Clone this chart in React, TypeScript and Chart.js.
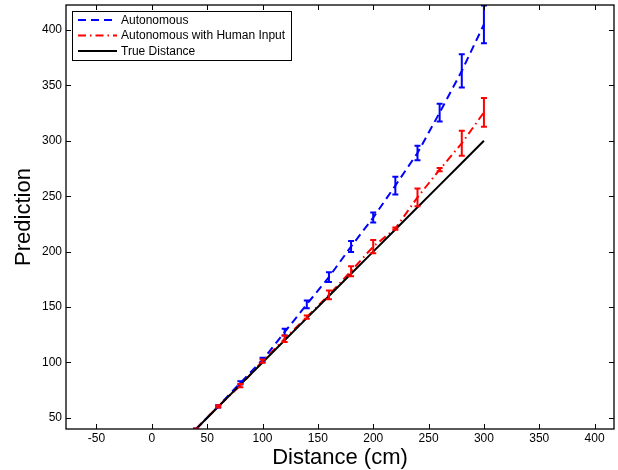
import React, { useEffect, useRef } from "react";
import { Chart, registerables } from "chart.js";

Chart.register(...registerables);

// ---- data ----
const distance = [40, 60, 80, 100, 120, 140, 160, 180, 200, 220, 240, 260, 280, 300];
const autonomous = [40, 60.5, 81.6, 102.2, 127.4, 152.5, 177, 204.6, 230.7, 259.6, 289, 325.4, 363, 405];
const autonomousErr = [0.5, 1, 1.5, 2, 3, 3.5, 4.5, 5, 4.5, 8, 6.5, 8, 15, 17];
const humanInput = [40, 60.4, 79.2, 101.2, 121.4, 141, 161, 182.4, 204.6, 220.8, 249, 274, 297.7, 325.7];
const humanInputErr = [0.5, 1, 1.5, 1.5, 3, 1.5, 4, 4.5, 6, 1, 8, 1.5, 11.3, 13];
const trueDistance = [40, 60, 80, 100, 120, 140, 160, 180, 200, 220, 240, 260, 280, 300];

const xTicks = [-50, 0, 50, 100, 150, 200, 250, 300, 350, 400];
const yTicks = [50, 100, 150, 200, 250, 300, 350, 400];
const seriesLabels = ["Autonomous", "Autonomous with Human Input", "True Distance"];
const xTitle = "Distance (cm)";
const yTitle = "Prediction";

const FONT = "'Liberation Sans', Arial, Helvetica, sans-serif";

export default function App() {
  const ref = useRef<HTMLCanvasElement>(null);

  useEffect(() => {
    if (!ref.current) return;
    const pts = (ys: number[]) => distance.map((x, i) => ({ x, y: ys[i] }));

    const styles = [
      { color: "#0000ff", dash: [8, 5] },
      { color: "#ff0000", dash: [8, 4, 1.5, 4] },
      { color: "#000000", dash: [] as number[] },
    ];

    const errorSets = [
      { values: autonomous, errors: autonomousErr, color: styles[0].color },
      { values: humanInput, errors: humanInputErr, color: styles[1].color },
    ];

    const matlabPlugin = {
      id: "matlabDecor",
      afterDatasetsDraw(chart: any) {
        const { ctx, chartArea, scales } = chart;
        const xs = scales.x;
        const ys = scales.y;
        ctx.save();
        ctx.beginPath();
        ctx.rect(chartArea.left, chartArea.top, chartArea.right - chartArea.left, chartArea.bottom - chartArea.top);
        ctx.clip();
        ctx.lineWidth = 2;
        ctx.setLineDash([]);
        ctx.lineCap = "butt";
        for (const s of errorSets) {
          ctx.strokeStyle = s.color;
          distance.forEach((d, i) => {
            const px = xs.getPixelForValue(d);
            const top = ys.getPixelForValue(s.values[i] + s.errors[i]);
            const bot = ys.getPixelForValue(s.values[i] - s.errors[i]);
            ctx.beginPath();
            ctx.moveTo(px, top);
            ctx.lineTo(px, bot);
            ctx.moveTo(px - 3, top);
            ctx.lineTo(px + 3, top);
            ctx.moveTo(px - 3, bot);
            ctx.lineTo(px + 3, bot);
            ctx.stroke();
          });
        }
        ctx.restore();
      },
      afterDraw(chart: any) {
        const { ctx, chartArea, scales } = chart;
        const { left, right, top, bottom } = chartArea;
        ctx.save();
        // box
        ctx.strokeStyle = "#000";
        ctx.lineWidth = 1.3;
        ctx.setLineDash([]);
        ctx.strokeRect(left, top, right - left, bottom - top);
        // inward ticks
        ctx.lineWidth = 1;
        const tl = 5;
        ctx.beginPath();
        for (const v of xTicks) {
          const px = Math.round(scales.x.getPixelForValue(v)) + 0.5;
          ctx.moveTo(px, bottom);
          ctx.lineTo(px, bottom - tl);
          ctx.moveTo(px, top);
          ctx.lineTo(px, top + tl);
        }
        for (const v of yTicks) {
          const py = Math.round(scales.y.getPixelForValue(v)) + 0.5;
          ctx.moveTo(left, py);
          ctx.lineTo(left + tl, py);
          ctx.moveTo(right, py);
          ctx.lineTo(right - tl, py);
        }
        ctx.stroke();

        // legend
        const lx = 72.5, ly = 11.5, lw = 219, lh = 49;
        ctx.fillStyle = "#fff";
        ctx.fillRect(lx, ly, lw, lh);
        ctx.strokeStyle = "#000";
        ctx.lineWidth = 1;
        ctx.strokeRect(lx, ly, lw, lh);
        ctx.font = `12px ${FONT}`;
        ctx.textBaseline = "middle";
        ctx.textAlign = "left";
        seriesLabels.forEach((label, i) => {
          const ry = 20 + i * 15.5;
          ctx.strokeStyle = styles[i].color;
          ctx.lineWidth = 2;
          ctx.setLineDash(styles[i].dash);
          ctx.beginPath();
          ctx.moveTo(78, ry);
          ctx.lineTo(117, ry);
          ctx.stroke();
          ctx.setLineDash([]);
          ctx.fillStyle = "#000";
          ctx.fillText(label, 121, ry + 0.5);
        });
        ctx.restore();
      },
    };

    const chart = new Chart(ref.current, {
      type: "line",
      data: {
        datasets: [
          {
            label: seriesLabels[0],
            data: pts(autonomous),
            borderColor: styles[0].color,
            backgroundColor: styles[0].color,
            borderWidth: 2,
            borderDash: styles[0].dash,
            pointRadius: 0,
            fill: false,
            tension: 0,
            order: 2,
          },
          {
            label: seriesLabels[1],
            data: pts(humanInput),
            borderColor: styles[1].color,
            backgroundColor: styles[1].color,
            borderWidth: 2,
            borderDash: styles[1].dash,
            pointRadius: 0,
            fill: false,
            tension: 0,
            order: 1,
          },
          {
            label: seriesLabels[2],
            data: pts(trueDistance),
            borderColor: styles[2].color,
            backgroundColor: styles[2].color,
            borderWidth: 2,
            pointRadius: 0,
            fill: false,
            tension: 0,
            order: 0,
          },
        ],
      },
      options: {
        responsive: true,
        maintainAspectRatio: false,
        animation: false,
        layout: { padding: { top: 5, right: 4, left: 0, bottom: 0 } },
        plugins: {
          legend: { display: false },
          tooltip: { enabled: false },
        },
        scales: {
          x: {
            type: "linear",
            min: -77.5,
            max: 417.5,
            grid: { display: false, drawTicks: false },
            border: { display: false },
            ticks: {
              color: "#000",
              font: { family: FONT, size: 12 },
              padding: 2,
              maxRotation: 0,
              autoSkip: false,
            },
            afterBuildTicks: (s: any) => {
              s.ticks = xTicks.map((v) => ({ value: v }));
            },
            afterFit: (s: any) => {
              s.height = 41;
              s.paddingLeft = 0;
              s.paddingRight = 0;
            },
            title: {
              display: true,
              text: xTitle,
              color: "#000",
              font: { family: FONT, size: 22, lineHeight: 1.1 },
              padding: { top: 0, bottom: 0 },
            },
          },
          y: {
            type: "linear",
            min: 40,
            max: 422.5,
            grid: { display: false, drawTicks: false },
            border: { display: false },
            ticks: {
              color: "#000",
              font: { family: FONT, size: 12 },
              padding: 4,
              autoSkip: false,
            },
            afterBuildTicks: (s: any) => {
              s.ticks = yTicks.map((v) => ({ value: v }));
            },
            afterFit: (s: any) => {
              s.width = 66;
              s.paddingTop = 0;
              s.paddingBottom = 0;
            },
            title: {
              display: true,
              text: yTitle,
              color: "#000",
              font: { family: FONT, size: 22, lineHeight: 1.1 },
              padding: { top: 12, bottom: 0 },
            },
          },
        },
      },
      plugins: [matlabPlugin],
    } as any);

    return () => chart.destroy();
  }, []);

  return (
    <div style={{ position: "fixed", left: 0, top: 0, width: 618, height: 470, background: "#fff" }}>
      <canvas ref={ref} style={{ display: "block" }} />
    </div>
  );
}
